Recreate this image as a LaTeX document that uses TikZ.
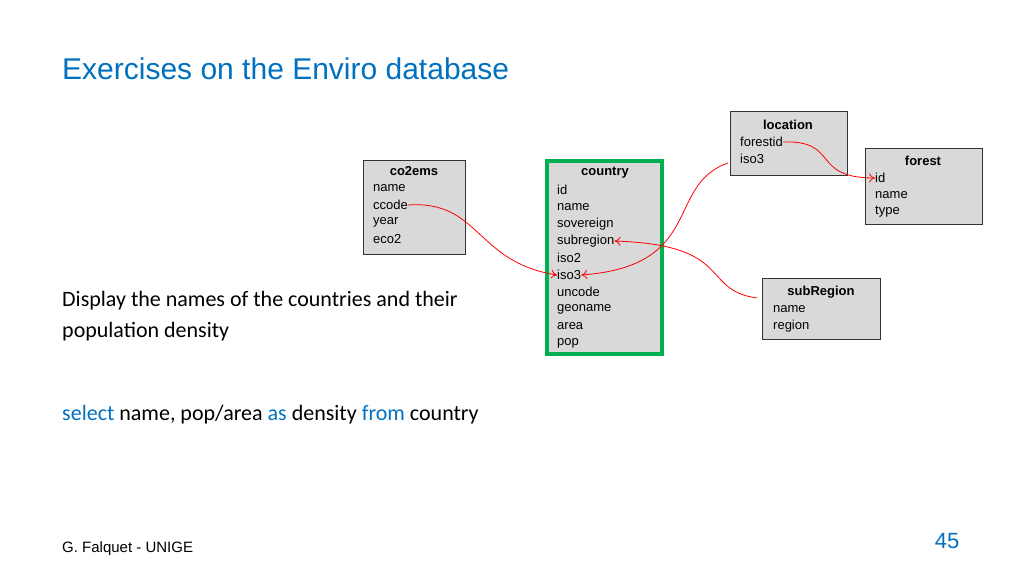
\documentclass[tikz,border=0pt]{standalone}
\usepackage{fontspec}
\setmainfont{Liberation Sans}
\newfontfamily\calib{Carlito}
\usetikzlibrary{arrows.meta}
\definecolor{titleblue}{RGB}{0,112,192}
\definecolor{boxgray}{RGB}{217,217,217}
\definecolor{boxgreen}{RGB}{0,176,80}
\tikzset{tbl/.style={draw=black!80,fill=boxgray,line width=0.8pt,inner sep=0pt},
	row/.style={anchor=west,inner sep=0pt,font=\fontsize{13}{13}\selectfont},
	head/.style={inner sep=0pt,font=\bfseries\fontsize{13}{13}\selectfont},
	link/.style={red,line width=0.8pt,-{To[length=6pt,width=9pt]}}}
\begin{document}
\begin{tikzpicture}[x=1pt,y=-1pt]
\useasboundingbox (0,0) rectangle (1024,576);
\node[anchor=west,inner sep=0pt,text=titleblue,font=\fontsize{30}{30}\selectfont] (title) at (62,69) {Exercises on the Enviro database};

% tables
\draw[tbl] (363,160) rectangle (465,254);
\draw[tbl,draw=boxgreen,line width=4pt] (547,161) rectangle (662,354);
\draw[tbl] (730,111) rectangle (847,175);
\draw[tbl] (865,148) rectangle (982,224);
\draw[tbl] (762,278) rectangle (880,339);

\node[head] (co2ems) at (414,171) {co2ems};
\foreach \t/\n [count=\k] in {name/cname,ccode/ccode,year/year,eco2/eco} {
	\node[row] (\n) at (373,171+17*\k) {\t};
};
\node[head] (country) at (605,173) {country};
\foreach \t [count=\k] in {id,name,sovereign,subregion,iso2,iso3,uncode,geoname,area,pop} {
	\node[row] (c\t) at (557,173+17*\k) {\t};
};
\node[head] (location) at (788,125) {location};
\node[row] (forestid) at (740,142) {forestid};
\node[row] (liso) at (740,159) {iso3};
\node[head] (forest) at (923,161) {forest};
\foreach \t [count=\k] in {id,name,type} {
	\node[row] (f\t) at (875,161+17*\k) {\t};
};
\node[head] (subRegion) at (821,292) {subRegion};
\node[row] (sname) at (773,309) {name};
\node[row] (sregion) at (773,326) {region};

% links
\draw[link] (ccode.east) .. controls (480,200) and (475,262) .. (ciso3.west);
\draw[link] (liso.west) ++(-12,4) coordinate (lstart) (lstart) .. controls (665,185) and (705,266) .. (ciso3.east);
\draw[link] (sname.west) ++(-16,-11) coordinate (sstart) (sstart) .. controls (700,290) and (735,245) .. (csubregion.east);
\draw[link] (forestid.east) .. controls (840,140) and (810,178) .. (fid.west);

% text
\node[anchor=west,inner sep=0pt,font=\calib\fontsize{22}{31}\selectfont,align=left] (task) at (62,316) {Display the names of the countries and their\\population density};
\node[anchor=west,inner sep=0pt,font=\calib\fontsize{22}{22}\selectfont] (query) at (62,415) {\textcolor{titleblue}{select} name, pop/area \textcolor{titleblue}{as} density \textcolor{titleblue}{from} country};
\node[anchor=west,inner sep=0pt,font=\fontsize{15}{15}\selectfont] (footer) at (62,549) {G. Falquet - UNIGE};
\node[inner sep=0pt,text=titleblue,font=\fontsize{22}{22}\selectfont] (page) at (947,541) {45};
\end{tikzpicture}
\end{document}
